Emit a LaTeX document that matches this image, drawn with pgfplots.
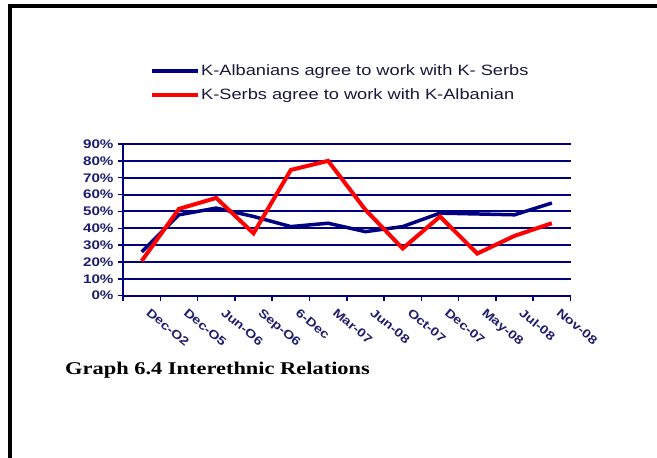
\documentclass[border=0pt]{standalone}
\usepackage{graphicx}
\usepackage{pgfplots}
\pgfplotsset{compat=1.18}
\usepackage{fontspec}
\setmainfont{Liberation Sans}
\newfontfamily\serifttl{Liberation Serif}
\definecolor{navy}{RGB}{0,0,128}
\definecolor{tickcol}{RGB}{30,30,110}
\definecolor{legcol}{RGB}{25,25,60}
\definecolor{redline}{RGB}{255,0,0}
\newcommand{\sx}[1]{\scalebox{1.22}[1]{#1}}
\begin{document}
\begin{tikzpicture}
\useasboundingbox (0,0) rectangle (657bp,458bp);
\draw[line width=4bp, black] (10.3bp,0bp) -- (10.3bp,452.3bp) -- (657bp,452.3bp);
\begin{axis}[
  at={(123bp,162.3bp)}, anchor=south west,
  scale only axis, width=447.5bp, height=151.7bp,
  xmin=-0.5, xmax=11.5, ymin=0, ymax=90,
  axis x line*=bottom, axis y line*=left,
  axis line style={navy, line width=2bp},
  ytick={0,10,...,90},
  /pgf/number format/assume math mode=true,
  yticklabel={\sx{\pgfmathprintnumber{\tick}\%}},
  yticklabel style={font=\bfseries\fontsize{12.5}{14}\selectfont, text=tickcol, xshift=-1bp},
  ymajorgrids, grid style={navy, line width=2bp},
  xtick={-0.5,0.5,...,11.5}, xticklabels={,,,,,,,,,,,,},
  extra x ticks={0,1,...,11},
  extra x tick labels={\sx{Dec-O2},\sx{Dec-O5},\sx{Jun-O6},\sx{Sep-O6},\sx{6-Dec},\sx{Mar-07},\sx{Jun-08},\sx{Oct-07},\sx{Dec-07},\sx{May-08},\sx{Jul-08},\sx{Nov-08}},
  extra x tick style={major tick length=0pt, grid=none,
    xticklabel style={xshift=9bp, yshift=-7bp, rotate=-40, anchor=north west, font=\bfseries\fontsize{12}{14}\selectfont, text=tickcol}},
  tick align=outside, major tick length=5bp,
  tick style={navy, line width=1.5bp},
  legend style={at={(0.0603,1.535)}, anchor=north west, draw=none, fill=none,
    font=\fontsize{15}{17}\selectfont, text=legcol, inner sep=0pt, row sep=8bp,
    nodes={inner sep=1bp, text height=11bp, text depth=3bp}},
  legend cell align=left,
  legend image code/.code={\draw[#1] (0bp,0bp) -- (46bp,0bp);},
  clip=false,
]
\addplot[navy, line width=3.5bp] coordinates {
  (0,26) (1,48) (2,52) (3,47) (4,41) (5,43) (6,38) (7,41) (8,49) (9,48.5) (10,48) (11,55)};
\addlegendentry{\sx{K-Albanians agree to work with K- Serbs}}
\addplot[redline, line width=4bp] coordinates {
  (0,20.6) (1,51.5) (2,58) (3,37) (4,74.6) (5,80) (6,51) (7,28) (8,47) (9,25) (10,35.5) (11,43)};
\addlegendentry{\sx{K-Serbs agree to work with K-Albanian}}
\end{axis}
\node[anchor=base west, inner sep=0pt, font=\serifttl\bfseries\fontsize{18}{20}\selectfont] at (65bp,83.5bp) {\scalebox{1.25}[1]{Graph 6.4 Interethnic Relations}};
\end{tikzpicture}
\end{document}
